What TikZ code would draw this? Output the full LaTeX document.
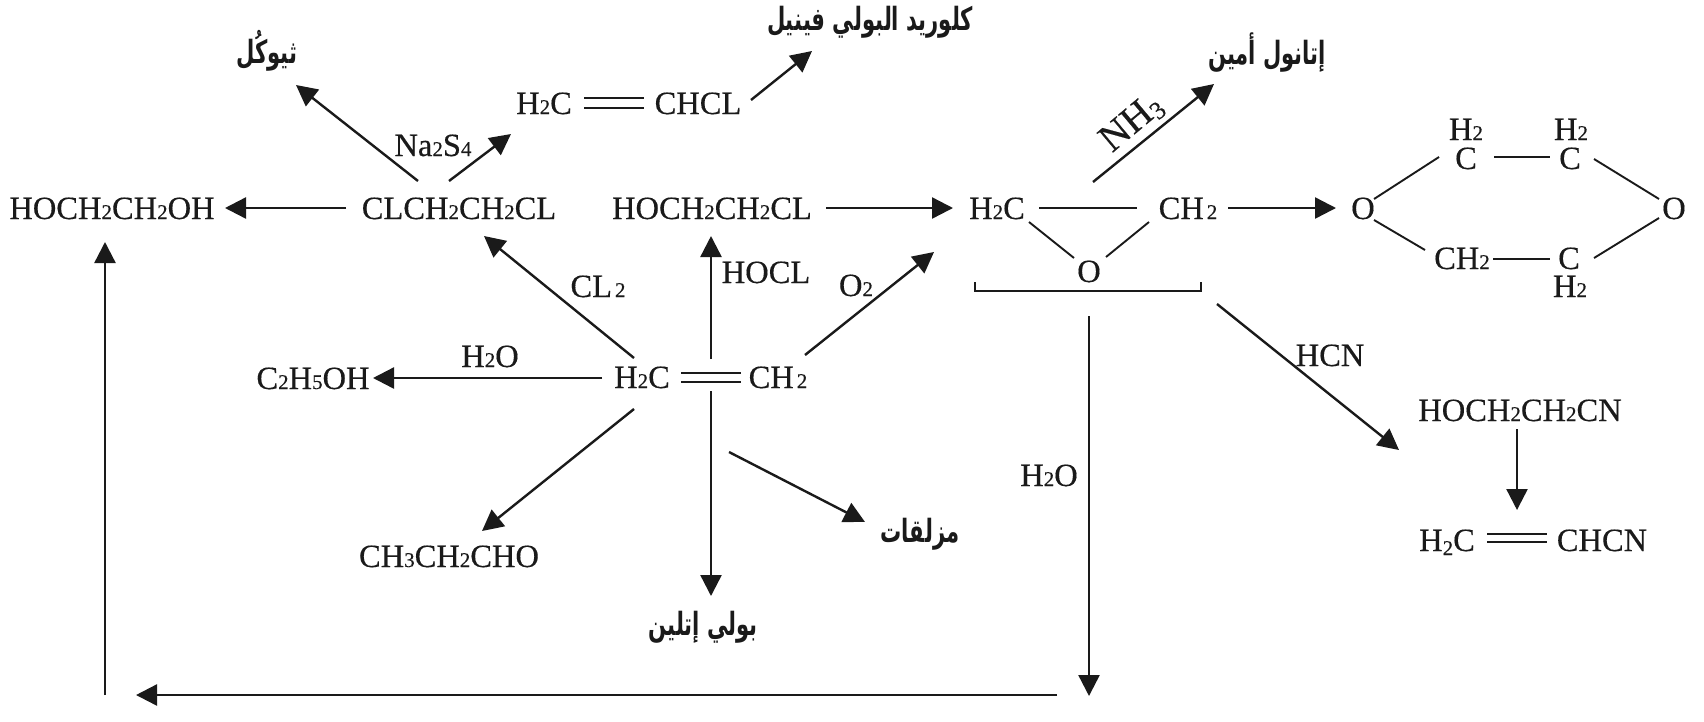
\documentclass[tikz,border=0pt]{standalone}
\usepackage{fontspec}
\usetikzlibrary{arrows.meta}
\setmainfont[FakeBold=0.35]{Liberation Serif}
\TeXXeTstate=1
\newfontfamily\arfont[Script=Arabic,FakeStretch=0.66]{DejaVu Sans Bold}
\newcommand{\dg}[1]{{\fontsize{21}{21}\selectfont #1}}
\newcommand{\lowdg}[1]{\raisebox{-4pt}{\fontsize{21}{21}\selectfont #1}}
\definecolor{ink}{HTML}{1A1A1A}
\tikzset{
  chem/.style={inner sep=0pt,anchor=center,text=ink,font=\fontsize{32.5}{34}\selectfont,text height=22pt,text depth=0pt},
  arab/.style={inner sep=0pt,anchor=center,text=ink,font=\arfont\fontsize{32}{34}\selectfont},
  arr/.style={draw=ink,line width=2.4pt,-{Triangle[length=21pt,width=21pt]}},
  bond/.style={draw=ink,line width=1.9pt},
}
\begin{document}
\begin{tikzpicture}[x=1pt,y=-1pt]
\useasboundingbox (0,0) rectangle (1704,721);
% molecules
\node[chem] (glycol) at (112,208) {HOCH\dg{2}CH\dg{2}OH};
\node[chem] (dcl) at (459,208) {CLCH\dg{2}CH\dg{2}CL};
\node[chem] (hcl) at (712,208) {HOCH\dg{2}CH\dg{2}CL};
\node[chem] (eh) at (997,208) {H\dg{2}C};
\node[chem] (ec) at (1188,208) {CH\kern3pt\dg{2}};
\node[chem] (eo) at (1089,271) {O};
\node[chem] (ol) at (1363,208) {O};
\node[chem] (orr) at (1674,208) {O};
\node[chem] (cia) at (1466,158) {C};
\node[chem] (ciah) at (1466,129) {H\dg{2}};
\node[chem] (cib) at (1570,158) {C};
\node[chem] (cibh) at (1571,129) {H\dg{2}};
\node[chem] (ch) at (1462,258) {CH\dg{2}};
\node[chem] (cic) at (1569,258) {C};
\node[chem] (cich) at (1570,286) {H\dg{2}};
\node[chem] (mh) at (642,377) {H\dg{2}C};
\node[chem] (mc) at (778,377) {CH\kern3pt\dg{2}};
\node[chem] (etoh) at (313,378) {C\dg{2}H\dg{5}OH};
\node[chem] (vh) at (544,103) {H\dg{2}C};
\node[chem] (vc) at (698,103) {CHCL};
\node[chem] (cn) at (1520,410) {HOCH\dg{2}CH\dg{2}CN};
\node[chem] (ah) at (1447,540) {H\lowdg{2}C};
\node[chem] (ac) at (1602,540) {CHCN};
\node[chem] (prop) at (449,556) {CH\dg{3}CH\dg{2}CHO};
% Arabic names
\node[arab] (thio) at (267,51) {\beginR ثيوكُل\endR};
\node[arab] (pvc) at (870,22) {\beginR كلوريد البولي فينيل\endR};
\node[arab] (eta) at (1267,53) {\beginR إتانول أمين\endR};
\node[arab] (lub) at (920,534) {\beginR مزلقات\endR};
\node[arab] (pe) at (703,627) {\beginR بولي إتلين\endR};
% reagents
\node[chem] (lna) at (433,145) {Na\dg{2}S\dg{4}};
\node[chem] (lcl) at (598,286) {CL\kern3pt\dg{2}};
\node[chem] (lhocl) at (766,272) {HOCL};
\node[chem] (lo) at (856,285) {O\dg{2}};
\node[chem] (lw) at (490,356) {H\dg{2}O};
\node[chem,rotate=40,scale=1.2] (lnh) at (1130,121) {NH\lowdg{3}};
\node[chem] (lhcn) at (1330,355) {HCN};
\node[chem] (lwb) at (1049,475) {H\dg{2}O};
% free ends
\coordinate (bdown) at (1089,696);
\coordinate (bra) at (1057,695);
\coordinate (brb) at (136,695);
\coordinate (brc) at (105,695);
% connectors
\draw[arr] ([shift={(-113,0)}]dcl.center) -- ([shift={(113,0)}]glycol.center);
\draw[arr] ([shift={(-41,-27)}]dcl.center) -- ([shift={(29,34)}]thio.center);
\draw[arr] ([shift={(-10,-27)}]dcl.center) -- ([shift={(-33,31)}]vh.center);
\draw[arr] ([shift={(53,-3)}]vc.center) -- ([shift={(-58,29)}]pvc.center);
\draw[arr] ([shift={(114,0)}]hcl.center) -- ([shift={(-44,0)}]eh.center);
\draw[arr] ([shift={(4,-89)}]eo.center) -- ([shift={(-53,31)}]eta.center);
\draw[arr] ([shift={(40,0)}]ec.center) -- ([shift={(-27,0)}]ol.center);
\draw[arr] ([shift={(-40,1)}]mh.center) -- ([shift={(60,0)}]etoh.center);
\draw[arr] ([shift={(69,-18)}]mh.center) -- ([shift={(-1,28)}]hcl.center);
\draw[arr] ([shift={(69,14)}]mh.center) -- ([shift={(8,-31)}]pe.center);
\draw[arr] ([shift={(-8,32)}]mh.center) -- ([shift={(33,-25)}]prop.center);
\draw[arr] ([shift={(87,75)}]mh.center) -- ([shift={(-55,-12)}]lub.center);
\draw[arr] ([shift={(-8,-19)}]mh.center) -- ([shift={(25,28)}]dcl.center);
\draw[arr] ([shift={(27,-22)}]mc.center) -- ([shift={(-63,44)}]eh.center);
\draw[arr] ([shift={(0,45)}]eo.center) -- (bdown);
\draw[arr] (bra) -- (brb);
\draw[arr] (brc) -- ([shift={(-7,34)}]glycol.center);
\draw[arr] ([shift={(29,96)}]ec.center) -- ([shift={(-121,40)}]cn.center);
\draw[arr] ([shift={(-3,19)}]cn.center) -- ([shift={(70,-30)}]ah.center);
% bonds
\draw[bond] ([shift={(42,0)}]eh.center) -- ([shift={(-51,0)}]ec.center);
\draw[bond] ([shift={(32,14)}]eh.center) -- ([shift={(-15,-13)}]eo.center);
\draw[bond] ([shift={(-39,14)}]ec.center) -- ([shift={(17,-14)}]eo.center);
\draw[bond] ([shift={(-114,11)}]eo.center) -- ([shift={(-114,20)}]eo.center) -- ([shift={(112,20)}]eo.center) -- ([shift={(112,11)}]eo.center);
\draw[bond] ([shift={(11,-9)}]ol.center) -- ([shift={(-27,-1)}]cia.center);
\draw[bond] ([shift={(28,-1)}]cia.center) -- ([shift={(-20,-1)}]cib.center);
\draw[bond] ([shift={(24,1)}]cib.center) -- ([shift={(-15,-9)}]orr.center);
\draw[bond] ([shift={(11,12)}]ol.center) -- ([shift={(-37,-8)}]ch.center);
\draw[bond] ([shift={(31,1)}]ch.center) -- ([shift={(-19,1)}]cic.center);
\draw[bond] ([shift={(25,0)}]cic.center) -- ([shift={(-15,10)}]orr.center);
\draw[bond] ([shift={(39,-4)}]mh.center) -- ([shift={(-37,-4)}]mc.center);
\draw[bond] ([shift={(39,5)}]mh.center) -- ([shift={(-37,5)}]mc.center);
\draw[bond] ([shift={(40,-5)}]vh.center) -- ([shift={(-54,-5)}]vc.center);
\draw[bond] ([shift={(40,5)}]vh.center) -- ([shift={(-54,5)}]vc.center);
\draw[bond] ([shift={(40,-6)}]ah.center) -- ([shift={(-55,-6)}]ac.center);
\draw[bond] ([shift={(40,2)}]ah.center) -- ([shift={(-55,2)}]ac.center);
\end{tikzpicture}
\end{document}
